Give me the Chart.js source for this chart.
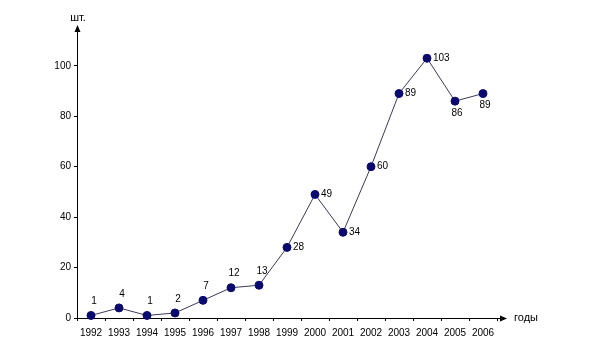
<!DOCTYPE html>
<html>
<head>
<meta charset="utf-8">
<script src="https://cdn.jsdelivr.net/npm/chart.js@4"></script>
<style>
  html, body { margin: 0; padding: 0; background: #fff; }
  #wrap { width: 607px; height: 361px; }
</style>
</head>
<body>
<div id="wrap"><canvas id="chart"></canvas></div>
<script>
const years = ["1992", "1993", "1994", "1995", "1996", "1997", "1998", "1999",
               "2000", "2001", "2002", "2003", "2004", "2005", "2006"];
const counts = [1, 4, 1, 2, 7, 12, 13, 28, 49, 34, 60, 89, 103, 86, 89];
const yTicks = [0, 20, 40, 60, 80, 100];

// where each value label sits relative to its point
function labelSide(i) {
    if (i <= 6) return "top";
    if (i >= 13) return "bottom";
    return "right";
}

const FONT = "'Liberation Sans', Arial, sans-serif";

// axis arrows, axis captions and point values
const extras = {
    id: "extras",
    afterDatasetsDraw(chart) {
        const ctx = chart.ctx;
        const area = chart.chartArea;
        const x0 = area.left, y0 = area.bottom;
        ctx.save();
        ctx.strokeStyle = "#000";
        ctx.fillStyle = "#000";
        ctx.lineWidth = 1;

        // extend x axis and add arrow
        ctx.beginPath();
        ctx.moveTo(area.right, y0 + 0.5);
        ctx.lineTo(area.right + 6, y0 + 0.5);
        ctx.stroke();
        ctx.beginPath();
        ctx.moveTo(area.right + 10, y0 + 0.5);
        ctx.lineTo(area.right + 3, y0 - 2.5);
        ctx.lineTo(area.right + 3, y0 + 3.5);
        ctx.closePath();
        ctx.fill();

        // y arrow
        ctx.beginPath();
        ctx.moveTo(x0 + 0.5, area.top - 3);
        ctx.lineTo(x0 - 2.5, area.top + 4);
        ctx.lineTo(x0 + 3.5, area.top + 4);
        ctx.closePath();
        ctx.fill();

        ctx.font = "11px " + FONT;
        ctx.textBaseline = "middle";
        ctx.textAlign = "center";
        ctx.fillText("шт.", x0 + 1, area.top - 10);
        ctx.textAlign = "left";
        ctx.fillText("годы", area.right + 17, y0);

        // value labels
        ctx.font = "10px " + FONT;
        const meta = chart.getDatasetMeta(0);
        meta.data.forEach((pt, i) => {
            const side = labelSide(i);
            let x = pt.x, y = pt.y;
            if (side === "top") { x += 3; y -= 14; ctx.textAlign = "center"; }
            else if (side === "right") { x += 6; ctx.textAlign = "left"; }
            else { x += 2; y += 12; ctx.textAlign = "center"; }
            ctx.fillText(String(counts[i]), x, y);
        });
        ctx.restore();
    }
};

new Chart(document.getElementById("chart"), {
    type: "line",
    data: {
        labels: years,
        datasets: [{
            data: counts,
            borderColor: "#3a3a5a",
            borderWidth: 1,
            pointBackgroundColor: "#0b0b6e",
            pointBorderColor: "#0b0b6e",
            pointRadius: 4,
            pointHoverRadius: 4,
            tension: 0,
            clip: false
        }]
    },
    options: {
        responsive: true,
        maintainAspectRatio: false,
        animation: false,
        layout: { padding: { left: 0, right: 110, top: 28, bottom: 0 } },
        plugins: {
            legend: { display: false },
            tooltip: { enabled: false }
        },
        scales: {
            x: {
                type: "category",
                offset: true,
                afterFit(scale) { scale.height = 43; },
                grid: {
                    offset: true,
                    drawOnChartArea: false,
                    tickLength: 3,
                    color: "#000"
                },
                border: { color: "#000", width: 1 },
                ticks: {
                    color: "#000",
                    padding: 6,
                    maxRotation: 0,
                    autoSkip: false,
                    font: { family: FONT, size: 10 }
                }
            },
            y: {
                min: 0,
                max: 115,
                afterFit(scale) { scale.width = 77; },
                afterBuildTicks(scale) {
                    scale.ticks = yTicks.map(v => ({ value: v }));
                },
                grid: {
                    drawOnChartArea: false,
                    tickLength: 3,
                    color: "#000"
                },
                border: { color: "#000", width: 1 },
                ticks: {
                    color: "#000",
                    padding: 3,
                    font: { family: FONT, size: 10 }
                }
            }
        }
    },
    plugins: [extras]
});
</script>
</body>
</html>
